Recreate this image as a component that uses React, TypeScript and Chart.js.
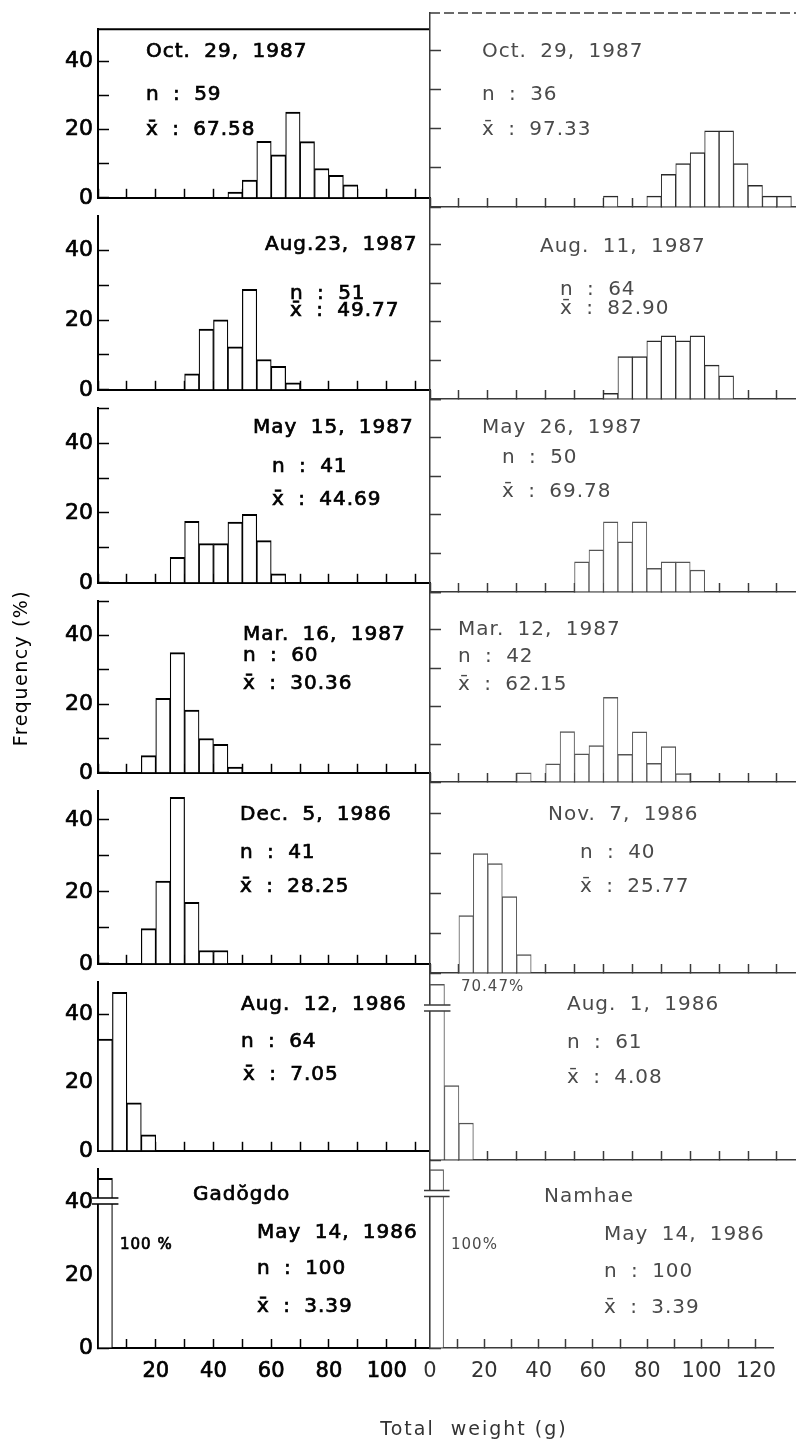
import React, { useEffect, useRef } from 'react';
import { Chart, registerables } from 'chart.js';

Chart.register(...registerables);

// ---------------- data ----------------
const BIN_WIDTH = 5; // g per weight class
const siteNames = ['Gadŏgdo', 'Namhae'];

// Gadŏgdo (left column), top row to bottom row
const gadDates = ['Oct. 29, 1987', 'Aug.23, 1987', 'May 15, 1987', 'Mar. 16, 1987', 'Dec. 5, 1986', 'Aug. 12, 1986', 'May 14, 1986'];
const gadN = ['59', '51', '41', '60', '41', '64', '100'];
const gadMean = ['67.58', '49.77', '44.69', '30.36', '28.25', '7.05', '3.39'];
const gadFirstBin = [45, 30, 25, 15, 15, 0, 0];
const gadOct87 = [1.7, 5.2, 16.6, 12.6, 25.2, 16.5, 8.6, 6.6, 3.8];
const gadAug87 = [4.6, 17.4, 20.1, 12.3, 28.8, 8.7, 6.7, 2.0];
const gadMay87 = [7.3, 17.6, 11.2, 11.2, 17.4, 19.6, 12.1, 2.6];
const gadMar87 = [5.0, 21.7, 35.0, 18.3, 10.0, 8.3, 1.7];
const gadDec86 = [9.8, 23.0, 46.3, 17.1, 3.7, 3.7];
const gadAug86 = [32.8, 48.4, 14.1, 4.7];
const gadMay86 = [100];
const gadFreq = [gadOct87, gadAug87, gadMay87, gadMar87, gadDec86, gadAug86, gadMay86];

// Namhae (right column)
const namDates = ['Oct. 29, 1987', 'Aug. 11, 1987', 'May 26, 1987', 'Mar. 12, 1987', 'Nov. 7, 1986', 'Aug. 1, 1986', 'May 14, 1986'];
const namN = ['36', '64', '50', '42', '40', '61', '100'];
const namMean = ['97.33', '82.90', '69.78', '62.15', '25.77', '4.08', '3.39'];
const namFirstBin = [60, 60, 50, 30, 10, 0, 0];
const namOct87 = [2.78, 0, 0, 2.78, 8.33, 11.11, 13.89, 19.44, 19.44, 11.11, 5.56, 2.78, 2.78];
const namAug87 = [1.5, 11.0, 11.0, 15.1, 16.4, 15.1, 16.4, 8.8, 6.0];
const namMay87 = [7.8, 10.9, 18.2, 13.0, 18.2, 6.1, 7.8, 7.8, 5.7];
const namMar87 = [2.4, 0, 4.8, 13.3, 7.4, 9.6, 22.3, 7.3, 13.2, 4.9, 9.3, 2.2];
const namNov86 = [14.4, 30.0, 27.5, 19.2, 4.6];
const namAug86 = [70.47, 19.7, 9.8];
const namMay86 = [100];
const namFreq = [namOct87, namAug87, namMay87, namMar87, namNov86, namAug86, namMay86];

// tick labels
const yTickLabels = [0, 20, 40];
const xTickLabelsLeft = [20, 40, 60, 80, 100];
const xTickLabelsRight = [0, 20, 40, 60, 80, 100, 120];
const yTitle = 'Frequency (%)';
const xTitle = 'Total  weight (g)';
const pctLabels: Record<string, string> = { '1-5': '70.47%', '0-6': '100 %', '1-6': '100%' };

// ---------------- layout ----------------
const W = 796;
const H = 1445;
const ROW_TOP = [13, 207, 399, 592, 782, 973, 1160];
const ROW_ZERO = [207, 399, 592, 782, 973, 1160, 1348];
const ROW_YMAX = [49.5, 49.8, 50, 50, 48, 49.5, 49];
const COL_X = [[98, 430], [430, 796]];
const COL_XMAX = [115, 126.6];
const BREAK_CAP = 46.5;
const X_AXIS_H = 60;
const FONT = '"DejaVu Sans", "Liberation Sans", sans-serif';

// text anchors (left x, middle y) for date / n / mean
const TEXT_POS = [
  [
    [[146, 52], [146, 95], [146, 130]],
    [[265, 245], [290, 294], [290, 311]],
    [[253, 428], [272, 467], [272, 500]],
    [[243, 635], [243, 656], [243, 684]],
    [[240, 815], [240, 853], [240, 887]],
    [[241, 1005], [241, 1042], [243, 1075]],
    [[257, 1233], [257, 1269], [257, 1307]],
  ],
  [
    [[482, 52], [482, 95], [482, 130]],
    [[540, 247], [560, 290], [560, 309]],
    [[482, 428], [502, 458], [502, 492]],
    [[458, 630], [458, 657], [458, 685]],
    [[548, 815], [580, 853], [580, 887]],
    [[567, 1005], [567, 1043], [567, 1078]],
    [[604, 1235], [604, 1272], [604, 1308]],
  ],
];
const PCT_POS: Record<string, [number, number]> = { '1-5': [461, 987], '0-6': [120, 1245], '1-6': [451, 1245] };
const SITE_POS = [[193, 1195], [544, 1197]];

function buildConfig(row: number, side: number, canvasTop: number, padTop: number, padBottom: number) {
  const [x0, x1] = COL_X[side];
  const xMax = COL_XMAX[side];
  const first = side === 0 ? gadFirstBin[row] : namFirstBin[row];
  const freq = side === 0 ? gadFreq[row] : namFreq[row];
  const isLeft = side === 0;
  const isBottom = row === 6;
  const ink = isLeft ? '#000' : '#3a3a3a';
  const barInk = isLeft ? '#000' : row < 2 ? '#2a2a2a' : '#555';
  const textInk = isLeft ? '#000' : '#4a4a4a';

  const points: { x: number; y: number | null }[] = [];
  const nBins = Math.ceil(xMax / BIN_WIDTH);
  let broken = false;
  for (let i = 0; i < nBins; i++) {
    const lo = i * BIN_WIDTH;
    const k = (lo - first) / BIN_WIDTH;
    const v = k >= 0 && k < freq.length ? freq[k] : 0;
    if (v > ROW_YMAX[row]) broken = true;
    points.push({ x: lo + BIN_WIDTH / 2, y: v > 0 ? Math.min(v, BREAK_CAP) : null });
  }

  const key = `${side}-${row}`;
  const dates = side === 0 ? gadDates : namDates;
  const ns = side === 0 ? gadN : namN;
  const means = side === 0 ? gadMean : namMean;
  const pos = TEXT_POS[side][row];

  const decor = {
    id: 'decor',
    afterDraw(chart: any) {
      const ctx = chart.ctx as CanvasRenderingContext2D;
      const xs = chart.scales.x;
      const ys = chart.scales.y;
      const area = chart.chartArea;
      const put = (t: string, x: number, y: number) => {
        ctx.fillText(t, x, y);
        if (isLeft) ctx.strokeText(t, x, y);
      };
      ctx.save();
      if (row === 0) {
        ctx.strokeStyle = ink;
        ctx.lineWidth = isLeft ? 2 : 1.5;
        ctx.setLineDash(isLeft ? [] : [10, 4]);
        ctx.beginPath();
        ctx.moveTo(area.left, area.top);
        ctx.lineTo(area.right, area.top);
        ctx.stroke();
        ctx.setLineDash([]);
      }
      if (broken) {
        const yc = ys.getPixelForValue(40) - 1;
        const bx0 = xs.getPixelForValue(0) - 6;
        const bx1 = xs.getPixelForValue(BIN_WIDTH) + 6;
        ctx.fillStyle = '#fff';
        ctx.fillRect(bx0, yc - 3, bx1 - bx0, 6);
        ctx.strokeStyle = ink;
        ctx.lineWidth = 1.5;
        ctx.beginPath();
        ctx.moveTo(bx0, yc - 3);
        ctx.lineTo(bx1, yc - 3);
        ctx.moveTo(bx0, yc + 3);
        ctx.lineTo(bx1, yc + 3);
        ctx.stroke();
      }
      ctx.fillStyle = textInk;
      ctx.strokeStyle = textInk;
      ctx.lineWidth = 0.7;
      ctx.textBaseline = 'middle';
      ctx.textAlign = 'left';
      (ctx as any).letterSpacing = '1px';
      (ctx as any).wordSpacing = '6px';
      ctx.font = `20px ${FONT}`;
      const lines = [dates[row], `n : ${ns[row]}`, `x\u0304 : ${means[row]}`];
      lines.forEach((t, i) => put(t, pos[i][0], pos[i][1] - canvasTop));
      if (row === 6) {
        put(siteNames[side], SITE_POS[side][0], SITE_POS[side][1] - canvasTop);
      }
      if (pctLabels[key]) {
        (ctx as any).wordSpacing = '0px';
        ctx.font = `15px ${FONT}`;
        const p = PCT_POS[key];
        put(pctLabels[key], p[0], p[1] - canvasTop);
      }
      (ctx as any).letterSpacing = '0px';
      (ctx as any).wordSpacing = '0px';
      if (isLeft && row === 3) {
        ctx.save();
        ctx.fillStyle = '#000';
        ctx.font = `19px ${FONT}`;
        (ctx as any).letterSpacing = '1.5px';
        ctx.translate(22, 668 - canvasTop);
        ctx.rotate(-Math.PI / 2);
        ctx.textAlign = 'center';
        ctx.fillText(yTitle, 0, 0);
        ctx.restore();
      }
      if (!isLeft && row === 6) {
        ctx.fillStyle = '#333';
        ctx.font = `19px ${FONT}`;
        (ctx as any).letterSpacing = '2px';
        ctx.textAlign = 'center';
        ctx.fillText(xTitle, 474, 1430 - canvasTop);
      }
      ctx.restore();
    },
  };

  const yAxisW = isLeft ? x0 : 0;
  const xAxisH = isBottom ? X_AXIS_H : 0;

  return {
    type: 'bar' as const,
    data: {
      datasets: [
        {
          data: points,
          backgroundColor: '#fff',
          borderColor: barInk,
          borderWidth: isLeft ? { top: 2, left: 1.2, right: 1.2, bottom: 0 } : { top: 1.5, left: 1, right: 1, bottom: 0 },
          borderSkipped: 'bottom' as const,
          barPercentage: 1,
          categoryPercentage: 1,
        },
      ],
    },
    options: {
      responsive: false,
      maintainAspectRatio: false,
      animation: false as const,
      devicePixelRatio: 1,
      layout: { padding: { left: x0 - yAxisW, right: W - x1, top: padTop, bottom: padBottom - xAxisH } },
      plugins: { legend: { display: false }, tooltip: { enabled: false }, title: { display: false } },
      scales: {
        x: {
          type: 'linear' as const,
          min: 0,
          max: xMax,
          offset: false,
          afterFit: (s: any) => {
            s.height = xAxisH;
          },
          grid: { display: true, offset: false, drawOnChartArea: false, drawTicks: true, tickLength: -9, tickWidth: 1.5, tickColor: ink },
          border: { display: true, color: ink, width: isLeft ? 2 : 1.5, dash: isLeft ? [] : [12, 3] },
          ticks: {
            display: isBottom,
            stepSize: 10,
            autoSkip: false,
            includeBounds: false,
            maxRotation: 0,
            minRotation: 0,
            padding: 20,
            color: isLeft ? '#000' : '#333',
            textStrokeColor: isLeft ? '#000' : '#333',
            textStrokeWidth: isLeft ? 0.7 : 0,
            font: { family: FONT, size: 21 },
            callback: (v: any) => {
              const list = isLeft ? xTickLabelsLeft : xTickLabelsRight;
              return list.includes(Number(v)) ? String(v) : '';
            },
          },
        },
        y: {
          type: 'linear' as const,
          min: 0,
          max: ROW_YMAX[row],
          afterFit: (s: any) => {
            s.width = yAxisW;
          },
          grid: { display: true, drawOnChartArea: false, drawTicks: true, tickLength: -11, tickWidth: 1.5, tickColor: ink },
          border: { display: true, color: ink, width: isLeft ? 2 : 1.5, dash: isLeft ? [] : [10, 3] },
          ticks: {
            display: isLeft,
            stepSize: 10,
            autoSkip: false,
            includeBounds: false,
            padding: 16,
            color: '#000',
            textStrokeColor: '#000',
            textStrokeWidth: 0.7,
            font: { family: FONT, size: 22 },
            callback: (v: any) => (yTickLabels.includes(Number(v)) ? String(v) : ''),
          },
        },
      },
    },
    plugins: [decor],
  };
}

function Panel({ row, side }: { row: number; side: number }) {
  const ref = useRef<HTMLCanvasElement>(null);
  const padTop = Math.min(20, ROW_TOP[row]);
  const padBottom = row === 6 ? H - ROW_ZERO[row] : 20;
  const top = ROW_TOP[row] - padTop;
  const height = ROW_ZERO[row] + padBottom - top;
  useEffect(() => {
    if (!ref.current) return;
    const chart = new Chart(ref.current, buildConfig(row, side, top, padTop, padBottom) as any);
    return () => chart.destroy();
  }, [row, side, top, padTop, padBottom]);
  return (
    <canvas
      ref={ref}
      width={W}
      height={height}
      style={{ position: 'absolute', left: 0, top, width: W, height, display: 'block' }}
    />
  );
}

export default function App() {
  const panels: { row: number; side: number }[] = [];
  for (let r = 0; r < 7; r++) {
    panels.push({ row: r, side: 0 });
    panels.push({ row: r, side: 1 });
  }
  return (
    <div style={{ position: 'absolute', left: 0, top: 0, width: W, height: H, background: '#fff', overflow: 'hidden' }}>
      {panels.map((p) => (
        <Panel key={`${p.row}-${p.side}`} row={p.row} side={p.side} />
      ))}
    </div>
  );
}
